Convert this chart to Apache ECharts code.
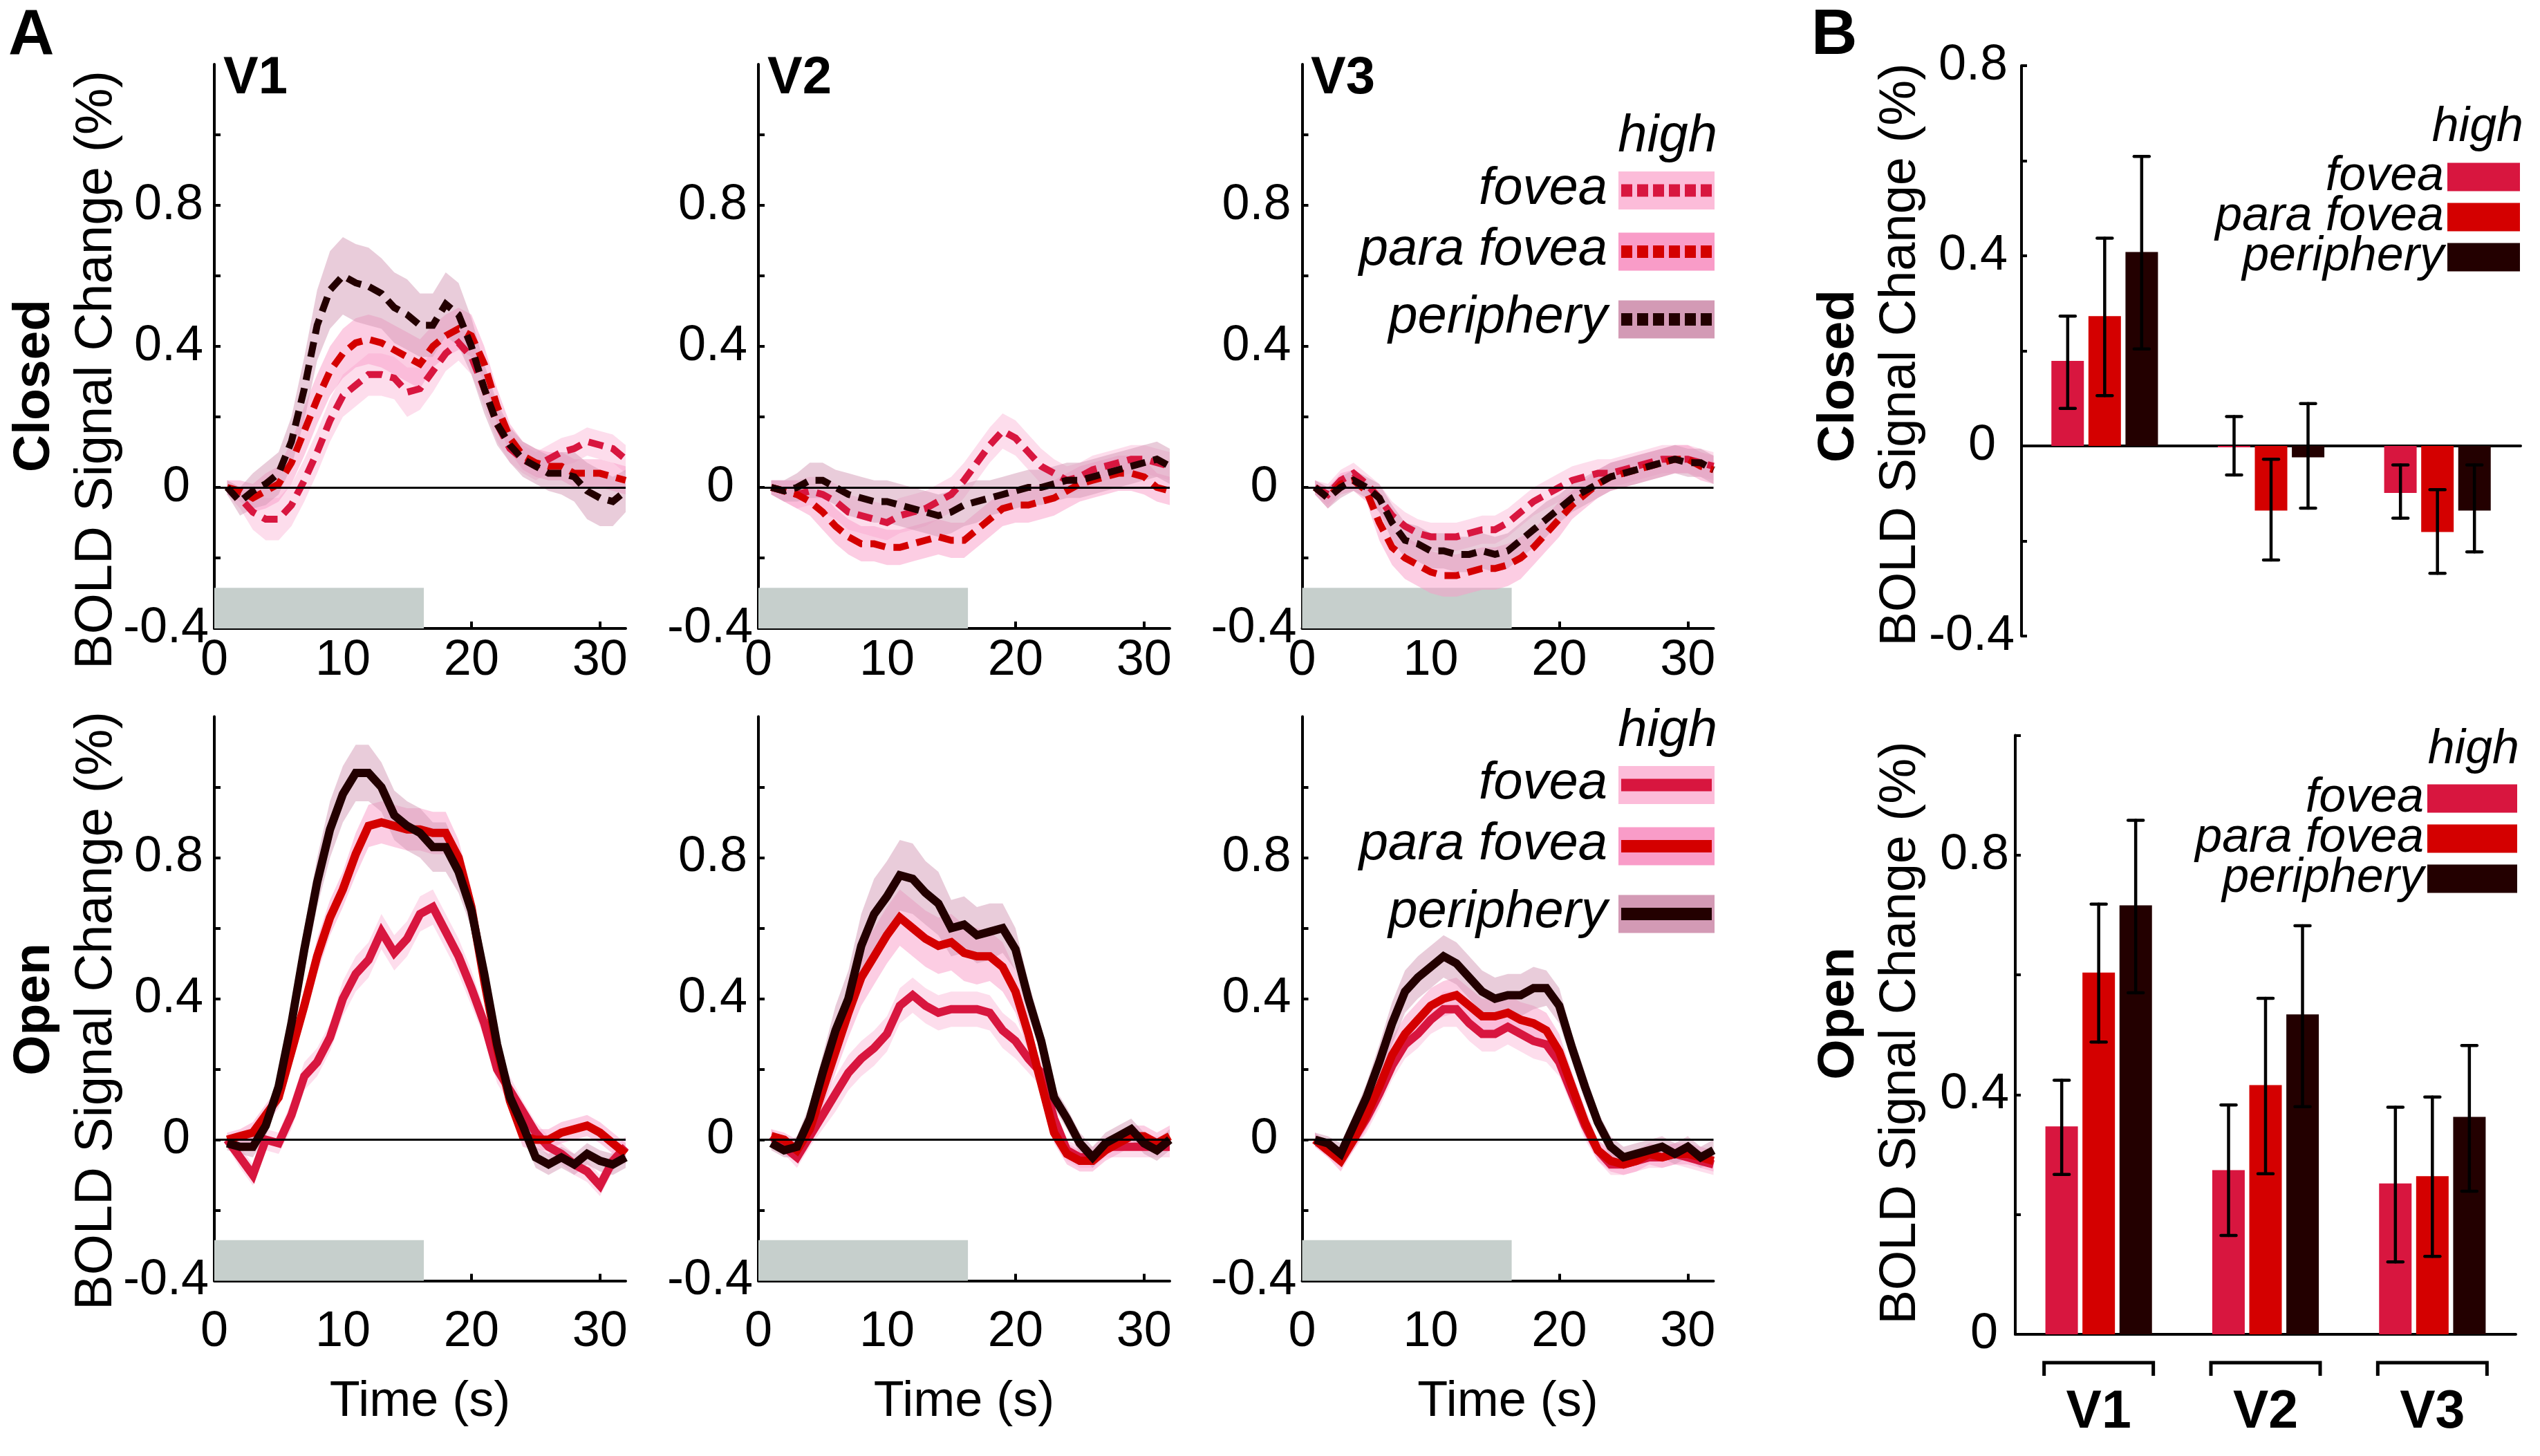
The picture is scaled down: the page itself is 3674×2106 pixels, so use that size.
<!DOCTYPE html>
<html><head><meta charset="utf-8">
<script src="https://cdn.jsdelivr.net/npm/echarts@6/dist/echarts.min.js"></script>
<style>html,body{margin:0;padding:0;background:#fff}#c{width:3674px;height:2106px}</style>
</head><body><div id="c"></div>
<script>
// ---------------- DATA ----------------
const TIME = [1,2,3,4,5,6,7,8,9,10,11,12,13,14,15,16,17,18,19,20,21,22,23,24,25,26,27,28,29,30,31,32];
const X_TICK_LABELS = [0, 10, 20, 30];
const Y_TICK_LABELS = [-0.4, 0, 0.4, 0.8];
const STIM_END = 16.3;          // stimulus bar (grey) end, s
const STIM_TOP = -0.285;        // stimulus bar top, % signal
const CONDITIONS = ['fovea', 'para fovea', 'periphery'];
const AREAS = ['V1', 'V2', 'V3'];

// Closed (eyes closed) time courses, % BOLD
const C_V1_FOV  = [0.00,-0.03,-0.07,-0.09,-0.09,-0.05,0.02,0.10,0.19,0.26,0.29,0.32,0.32,0.31,0.27,0.28,0.33,0.38,0.41,0.37,0.28,0.18,0.11,0.08,0.06,0.08,0.10,0.11,0.13,0.12,0.11,0.08];
const C_V1_PARA = [0.00,-0.01,-0.03,-0.01,0.01,0.07,0.16,0.25,0.33,0.38,0.41,0.42,0.41,0.39,0.37,0.35,0.40,0.43,0.45,0.43,0.35,0.23,0.14,0.09,0.07,0.06,0.06,0.04,0.04,0.04,0.03,0.02];
const C_V1_PER  = [0.00,-0.04,-0.01,0.01,0.04,0.13,0.28,0.46,0.56,0.60,0.58,0.57,0.55,0.51,0.49,0.46,0.46,0.52,0.49,0.40,0.28,0.18,0.12,0.08,0.06,0.04,0.04,0.03,-0.01,-0.03,-0.04,-0.01];
const C_V2_FOV  = [0.00,-0.01,-0.02,-0.01,-0.02,-0.04,-0.07,-0.08,-0.09,-0.10,-0.08,-0.07,-0.06,-0.04,-0.02,0.02,0.07,0.12,0.16,0.14,0.10,0.06,0.04,0.02,0.03,0.05,0.06,0.07,0.08,0.08,0.07,0.06];
const C_V2_PARA = [0.00,-0.01,-0.02,-0.04,-0.07,-0.11,-0.14,-0.16,-0.16,-0.17,-0.17,-0.16,-0.15,-0.14,-0.15,-0.15,-0.12,-0.09,-0.06,-0.05,-0.05,-0.04,-0.03,-0.01,0.01,0.02,0.03,0.04,0.04,0.03,0.00,-0.01];
const C_V2_PER  = [0.00,-0.01,0.00,0.02,0.02,0.00,-0.02,-0.03,-0.04,-0.04,-0.05,-0.06,-0.07,-0.08,-0.07,-0.05,-0.04,-0.03,-0.02,-0.01,0.00,0.00,0.01,0.02,0.02,0.03,0.04,0.05,0.06,0.07,0.08,0.06];
const C_V3_FOV  = [0.00,-0.02,0.02,0.04,0.01,-0.03,-0.08,-0.11,-0.13,-0.14,-0.14,-0.14,-0.13,-0.12,-0.12,-0.10,-0.07,-0.04,-0.02,0.00,0.02,0.03,0.04,0.04,0.05,0.06,0.07,0.08,0.08,0.08,0.07,0.06];
const C_V3_PARA = [0.00,-0.03,0.01,0.02,-0.01,-0.10,-0.17,-0.20,-0.22,-0.24,-0.25,-0.25,-0.24,-0.23,-0.23,-0.22,-0.20,-0.17,-0.13,-0.09,-0.05,-0.02,0.01,0.03,0.04,0.05,0.06,0.07,0.08,0.08,0.06,0.05];
const C_V3_PER  = [0.00,-0.03,0.00,0.02,0.00,-0.03,-0.10,-0.15,-0.16,-0.18,-0.18,-0.19,-0.19,-0.18,-0.19,-0.18,-0.15,-0.12,-0.09,-0.06,-0.03,-0.01,0.01,0.03,0.04,0.05,0.06,0.07,0.08,0.07,0.07,0.05];
// Closed: standard errors (half band width)
const C_V1_FOV_SEM  = [0.02,0.03,0.05,0.06,0.06,0.06,0.06,0.06,0.06,0.06,0.06,0.06,0.06,0.06,0.07,0.06,0.06,0.05,0.05,0.05,0.05,0.05,0.04,0.04,0.04,0.04,0.04,0.04,0.04,0.04,0.04,0.04];
const C_V1_PARA_SEM = [0.02,0.03,0.04,0.05,0.05,0.06,0.07,0.07,0.07,0.07,0.07,0.07,0.07,0.07,0.07,0.07,0.06,0.06,0.06,0.06,0.05,0.05,0.04,0.04,0.04,0.04,0.04,0.04,0.04,0.04,0.04,0.04];
const C_V1_PER_SEM  = [0.02,0.04,0.05,0.06,0.06,0.07,0.09,0.10,0.11,0.11,0.11,0.11,0.10,0.10,0.10,0.09,0.09,0.09,0.09,0.08,0.07,0.06,0.05,0.05,0.05,0.05,0.06,0.07,0.08,0.08,0.07,0.06];
const C_V2_FOV_SEM  = [0.02,0.03,0.04,0.04,0.05,0.05,0.05,0.05,0.05,0.05,0.05,0.05,0.05,0.05,0.05,0.05,0.05,0.05,0.05,0.05,0.05,0.05,0.04,0.04,0.04,0.04,0.04,0.04,0.04,0.04,0.04,0.04];
const C_V2_PARA_SEM = [0.02,0.03,0.04,0.04,0.05,0.05,0.05,0.05,0.05,0.05,0.05,0.05,0.05,0.05,0.05,0.05,0.05,0.05,0.05,0.05,0.05,0.05,0.05,0.05,0.05,0.05,0.05,0.05,0.05,0.05,0.04,0.04];
const C_V2_PER_SEM  = [0.02,0.03,0.04,0.05,0.05,0.05,0.06,0.06,0.06,0.06,0.06,0.06,0.06,0.06,0.06,0.06,0.06,0.05,0.05,0.05,0.05,0.05,0.05,0.05,0.05,0.05,0.05,0.05,0.05,0.05,0.05,0.05];
const C_V3_FOV_SEM  = [0.02,0.03,0.03,0.03,0.03,0.04,0.04,0.04,0.04,0.04,0.04,0.04,0.04,0.04,0.04,0.04,0.04,0.04,0.04,0.04,0.04,0.04,0.04,0.04,0.04,0.04,0.04,0.04,0.04,0.04,0.04,0.04];
const C_V3_PARA_SEM = [0.02,0.03,0.03,0.03,0.03,0.05,0.05,0.06,0.06,0.06,0.06,0.06,0.06,0.06,0.06,0.06,0.06,0.05,0.05,0.05,0.04,0.04,0.04,0.04,0.04,0.04,0.04,0.04,0.04,0.04,0.04,0.04];
const C_V3_PER_SEM  = [0.02,0.03,0.03,0.03,0.03,0.04,0.05,0.05,0.05,0.05,0.05,0.05,0.05,0.05,0.05,0.05,0.05,0.05,0.05,0.04,0.04,0.04,0.04,0.04,0.04,0.04,0.04,0.04,0.04,0.04,0.04,0.04];

// Open (eyes open) time courses, % BOLD
const O_V1_FOV  = [0.00,-0.05,-0.10,0.00,-0.01,0.07,0.18,0.22,0.29,0.40,0.47,0.51,0.59,0.53,0.57,0.64,0.66,0.59,0.52,0.43,0.33,0.20,0.14,0.08,0.02,-0.02,-0.04,-0.07,-0.09,-0.13,-0.06,-0.02];
const O_V1_PARA = [0.00,0.01,0.02,0.07,0.12,0.25,0.38,0.52,0.63,0.71,0.81,0.89,0.90,0.89,0.88,0.88,0.87,0.87,0.80,0.66,0.45,0.26,0.11,0.01,0.00,0.00,0.02,0.03,0.04,0.02,-0.01,-0.04];
const O_V1_PER  = [-0.01,-0.02,-0.02,0.04,0.15,0.33,0.54,0.73,0.88,0.98,1.04,1.04,1.00,0.92,0.89,0.87,0.83,0.83,0.76,0.65,0.47,0.27,0.12,0.04,-0.05,-0.07,-0.05,-0.07,-0.04,-0.06,-0.07,-0.05];
const O_V2_FOV  = [0.01,-0.02,-0.05,0.01,0.07,0.13,0.19,0.23,0.26,0.30,0.38,0.41,0.38,0.36,0.37,0.37,0.37,0.36,0.31,0.28,0.23,0.19,0.06,-0.03,-0.05,-0.05,-0.02,-0.02,-0.02,-0.02,-0.02,-0.02];
const O_V2_PARA = [0.01,0.00,-0.03,0.03,0.14,0.25,0.36,0.46,0.52,0.58,0.63,0.60,0.57,0.55,0.56,0.53,0.52,0.52,0.49,0.42,0.30,0.16,0.02,-0.04,-0.06,-0.06,-0.03,-0.01,0.01,0.01,-0.01,0.01];
const O_V2_PER  = [-0.01,-0.03,-0.02,0.06,0.19,0.31,0.40,0.55,0.64,0.69,0.75,0.74,0.70,0.67,0.60,0.61,0.58,0.59,0.60,0.54,0.40,0.28,0.12,0.06,-0.01,-0.05,-0.01,0.01,0.03,-0.01,-0.03,0.00];
const O_V3_FOV  = [0.00,-0.03,-0.05,0.00,0.06,0.13,0.21,0.27,0.30,0.34,0.37,0.37,0.33,0.30,0.30,0.32,0.30,0.28,0.27,0.22,0.13,0.04,-0.03,-0.07,-0.07,-0.06,-0.05,-0.05,-0.04,-0.05,-0.06,-0.07];
const O_V3_PARA = [0.00,-0.03,-0.06,0.00,0.07,0.15,0.24,0.30,0.34,0.38,0.40,0.41,0.38,0.35,0.35,0.36,0.34,0.33,0.31,0.25,0.15,0.05,-0.03,-0.06,-0.07,-0.06,-0.04,-0.05,-0.04,-0.04,-0.05,-0.06];
const O_V3_PER  = [0.00,-0.01,-0.04,0.04,0.12,0.22,0.33,0.42,0.46,0.49,0.52,0.50,0.46,0.42,0.40,0.41,0.41,0.43,0.43,0.38,0.26,0.15,0.05,-0.02,-0.05,-0.04,-0.03,-0.02,-0.04,-0.02,-0.05,-0.03];
// Open: standard errors
const O_V1_FOV_SEM  = [0.02,0.03,0.03,0.03,0.03,0.04,0.04,0.04,0.04,0.05,0.05,0.05,0.05,0.05,0.05,0.05,0.05,0.05,0.05,0.05,0.04,0.04,0.04,0.03,0.03,0.03,0.03,0.03,0.03,0.03,0.03,0.03];
const O_V1_PARA_SEM = [0.02,0.02,0.03,0.03,0.03,0.04,0.04,0.05,0.05,0.05,0.06,0.06,0.06,0.06,0.06,0.06,0.06,0.06,0.05,0.05,0.04,0.04,0.03,0.03,0.03,0.03,0.03,0.03,0.03,0.03,0.03,0.03];
const O_V1_PER_SEM  = [0.02,0.02,0.03,0.03,0.04,0.05,0.06,0.07,0.08,0.08,0.08,0.08,0.07,0.07,0.07,0.07,0.07,0.07,0.06,0.05,0.04,0.04,0.03,0.03,0.03,0.03,0.03,0.03,0.03,0.03,0.03,0.03];
const O_V2_FOV_SEM  = [0.02,0.02,0.03,0.03,0.04,0.05,0.05,0.05,0.05,0.05,0.05,0.05,0.05,0.05,0.05,0.05,0.05,0.05,0.05,0.05,0.04,0.04,0.03,0.03,0.03,0.03,0.03,0.03,0.03,0.03,0.03,0.03];
const O_V2_PARA_SEM = [0.02,0.02,0.03,0.03,0.05,0.06,0.07,0.08,0.08,0.08,0.08,0.08,0.08,0.08,0.08,0.08,0.08,0.07,0.07,0.06,0.05,0.04,0.03,0.03,0.03,0.03,0.03,0.03,0.03,0.03,0.03,0.03];
const O_V2_PER_SEM  = [0.02,0.02,0.03,0.04,0.05,0.07,0.08,0.09,0.10,0.10,0.10,0.10,0.09,0.09,0.08,0.08,0.08,0.08,0.07,0.06,0.05,0.04,0.03,0.03,0.03,0.03,0.03,0.03,0.03,0.03,0.03,0.03];
const O_V3_FOV_SEM  = [0.02,0.02,0.03,0.03,0.04,0.04,0.04,0.04,0.04,0.04,0.05,0.05,0.05,0.05,0.05,0.05,0.05,0.05,0.05,0.04,0.04,0.04,0.03,0.03,0.03,0.03,0.03,0.03,0.03,0.03,0.03,0.03];
const O_V3_PARA_SEM = [0.02,0.02,0.03,0.03,0.04,0.05,0.05,0.05,0.05,0.05,0.05,0.05,0.05,0.05,0.05,0.05,0.05,0.05,0.05,0.05,0.04,0.04,0.03,0.03,0.03,0.03,0.03,0.03,0.03,0.03,0.03,0.03];
const O_V3_PER_SEM  = [0.02,0.02,0.03,0.03,0.04,0.05,0.06,0.06,0.06,0.06,0.06,0.06,0.06,0.06,0.06,0.06,0.06,0.06,0.05,0.05,0.04,0.04,0.03,0.03,0.03,0.03,0.03,0.03,0.03,0.03,0.03,0.03];

// Bar chart B: mean % BOLD per area (V1, V2, V3) and error bar limits
const CLOSED_FOV      = [0.179, -0.003, -0.099];
const CLOSED_FOV_LO   = [0.079, -0.061, -0.152];
const CLOSED_FOV_HI   = [0.273,  0.062, -0.040];
const CLOSED_PARA     = [0.273, -0.136, -0.181];
const CLOSED_PARA_LO  = [0.106, -0.240, -0.268];
const CLOSED_PARA_HI  = [0.437, -0.028, -0.092];
const CLOSED_PER      = [0.408, -0.024, -0.136];
const CLOSED_PER_LO   = [0.204, -0.131, -0.223];
const CLOSED_PER_HI   = [0.609,  0.089, -0.040];
const OPEN_FOV        = [0.347, 0.274, 0.252];
const OPEN_FOV_LO     = [0.267, 0.165, 0.121];
const OPEN_FOV_HI     = [0.424, 0.383, 0.379];
const OPEN_PARA       = [0.604, 0.416, 0.264];
const OPEN_PARA_LO    = [0.488, 0.268, 0.130];
const OPEN_PARA_HI    = [0.718, 0.561, 0.396];
const OPEN_PER        = [0.716, 0.534, 0.363];
const OPEN_PER_LO     = [0.570, 0.380, 0.239];
const OPEN_PER_HI     = [0.858, 0.682, 0.482];

// ---------------- STYLE ----------------
const FONT = "'Liberation Sans', Arial, Helvetica, sans-serif";
const LINE_COLORS = ['#d8163f', '#d40000', '#230000'];
const BAND_COLORS = ['#fcbcd9', '#f99cc8', '#d39ab5'];
const BAR_COLORS  = ['#d8163f', '#d40000', '#230000'];

const PANELS = [
  {closed:true,  means:[C_V1_FOV,C_V1_PARA,C_V1_PER], sems:[C_V1_FOV_SEM,C_V1_PARA_SEM,C_V1_PER_SEM]},
  {closed:true,  means:[C_V2_FOV,C_V2_PARA,C_V2_PER], sems:[C_V2_FOV_SEM,C_V2_PARA_SEM,C_V2_PER_SEM]},
  {closed:true,  means:[C_V3_FOV,C_V3_PARA,C_V3_PER], sems:[C_V3_FOV_SEM,C_V3_PARA_SEM,C_V3_PER_SEM]},
  {closed:false, means:[O_V1_FOV,O_V1_PARA,O_V1_PER], sems:[O_V1_FOV_SEM,O_V1_PARA_SEM,O_V1_PER_SEM]},
  {closed:false, means:[O_V2_FOV,O_V2_PARA,O_V2_PER], sems:[O_V2_FOV_SEM,O_V2_PARA_SEM,O_V2_PER_SEM]},
  {closed:false, means:[O_V3_FOV,O_V3_PARA,O_V3_PER], sems:[O_V3_FOV_SEM,O_V3_PARA_SEM,O_V3_PER_SEM]}
];
const COL_LEFT = [310, 1097, 1883.5];
const ROW_TOP = [93, 1036.5];
const PANEL_W = 595, PANEL_H = 816;

const grids = [], xAxes = [], yAxes = [], series = [];
const txt = (size, extra) => Object.assign({fontSize:size, fontFamily:FONT, color:'#000'}, extra||{});

function yRich(pPad, zPad) {
  return {
    p: txt(72, {padding:[0,pPad,0,0]}),
    z: txt(72, {padding:[0,zPad,0,0]}),
    n: txt(72, {padding:[0,0,0,0]})
  };
}
function yFmt(v) {
  if (Math.abs(v) < 1e-9) return '{z|0}';
  return (v < 0 ? '{n|' : '{p|') + v.toFixed(1) + '}';
}
// band (mean ± sem) drawn as one polygon through the axis scales
function bandRender(color) {
  return function (params, api) {
    if (params.dataIndexInside !== 0) return null;
    const up = [], lo = [];
    for (let i = 0; i < params.dataInsideLength; i++) {
      up.push(api.coord([api.value(0, i), api.value(2, i)]));
      lo.push(api.coord([api.value(0, i), api.value(1, i)]));
    }
    return {type:'polygon', shape:{points: up.concat(lo.reverse())},
      style:{fill:color, opacity:0.5}};
  };
}

PANELS.forEach((p, g) => {
  const col = g % 3, row = g < 3 ? 0 : 1;
  grids.push({left: COL_LEFT[col], top: ROW_TOP[row], width: PANEL_W, height: PANEL_H, containLabel:false});
  xAxes.push({
    gridIndex:g, type:'value', min:0, max:32,
    axisLine:{onZero:false, lineStyle:{color:'#000', width:4}},
    axisTick:{inside:true, length:10, lineStyle:{color:'#000', width:4}, customValues:[10,20,30]},
    axisLabel:{customValues:X_TICK_LABELS, margin: row===0 ? 11 : 39, ...txt(72)},
    splitLine:{show:false},
    name: row===1 ? 'Time (s)' : '', nameLocation:'middle', nameGap:140,
    nameTextStyle: txt(72)
  });
  yAxes.push({
    gridIndex:g, type:'value', min:-0.4, max:1.2,
    axisLine:{show:true, onZero:false, lineStyle:{color:'#000', width:4}},
    axisTick:{show:true, inside:true, length:9, lineStyle:{color:'#000', width:4}, customValues:[-0.2,0,0.2,0.4,0.6,0.8,1.0]},
    axisLabel:{customValues:Y_TICK_LABELS, margin:8, formatter:yFmt, rich:yRich(8,27), ...txt(72)},
    splitLine:{show:false}
  });
  // zero line + stimulus bar
  series.push({
    type:'line', xAxisIndex:g, yAxisIndex:g, data:[], silent:true, z:2,
    markLine:{silent:true, symbol:['none','none'], label:{show:false}, animation:false,
      lineStyle:{color:'#000', width:3, type:'solid'}, data:[{yAxis:0}]},
    markArea:{silent:true, animation:false, itemStyle:{color:'#c6cfcc', opacity:1},
      data:[[{coord:[0,-0.4]},{coord:[STIM_END, STIM_TOP]}]]}
  });
  // bands
  [0,1,2].forEach(k => {
    const m = p.means[k], s = p.sems[k];
    series.push({type:'custom', xAxisIndex:g, yAxisIndex:g, z:1, silent:true,
      renderItem: bandRender(BAND_COLORS[k]), encode:{x:0, y:[1,2]},
      data: TIME.map((t,i) => [t, m[i] - s[i], m[i] + s[i]])});
  });
  // mean lines
  [0,1,2].forEach(k => {
    series.push({type:'line', name: AREAS[col] + (p.closed?' closed ':' open ') + CONDITIONS[k],
      xAxisIndex:g, yAxisIndex:g, z:3, symbol:'none', silent:true,
      lineStyle:{color:LINE_COLORS[k], width: p.closed ? 10 : 12, type: p.closed ? [22,12] : 'solid', cap:'butt', join:'miter'},
      data: TIME.map((t,i) => [t, p.means[k][i]])});
  });
});

// ---- Bar charts (grid 6 closed, grid 7 open) ----
grids.push({left:2924, top:95, width:722, height:825});
grids.push({left:2915, top:1063.5, width:724, height:866.5});
xAxes.push({gridIndex:6, type:'category', data:AREAS,
  axisLine:{onZero:true, lineStyle:{color:'#000', width:4}}, axisTick:{show:false}, axisLabel:{show:false}});
xAxes.push({gridIndex:7, type:'category', data:AREAS,
  axisLine:{lineStyle:{color:'#000', width:4}}, axisTick:{show:false},
  axisLabel:{margin:75, ...txt(77, {fontWeight:'bold'})}});
yAxes.push({gridIndex:6, type:'value', min:-0.4, max:0.8,
  axisLine:{show:true, onZero:false, lineStyle:{color:'#000', width:4}},
  axisTick:{show:true, inside:true, length:8, lineStyle:{color:'#000', width:4}, customValues:[-0.4,-0.2,0,0.2,0.4,0.6,0.8]},
  axisLabel:{customValues:Y_TICK_LABELS, margin:10, formatter:yFmt, rich:yRich(10,27), ...txt(72)},
  splitLine:{show:false}});
yAxes.push({gridIndex:7, type:'value', min:0, max:1.0,
  axisLine:{show:true, onZero:false, lineStyle:{color:'#000', width:4}},
  axisTick:{show:true, inside:true, length:8, lineStyle:{color:'#000', width:4}, customValues:[0.2,0.4,0.6,0.8,1.0]},
  axisLabel:{customValues:[0,0.4,0.8], margin:9, formatter:yFmt, rich:yRich(0,16), ...txt(72)},
  splitLine:{show:false}});

const BAR_PITCH = 53.5;
function errRender(offset) {
  return function (params, api) {
    const lo = api.coord([api.value(0), api.value(1)]);
    const hi = api.coord([api.value(0), api.value(2)]);
    const x = lo[0] + offset, cap = 11;
    const st = {stroke:'#000', lineWidth:4.5, lineCap:'round'};
    return {type:'group', children:[
      {type:'line', shape:{x1:x, y1:lo[1], x2:x, y2:hi[1]}, style:st},
      {type:'line', shape:{x1:x-cap, y1:lo[1], x2:x+cap, y2:lo[1]}, style:st},
      {type:'line', shape:{x1:x-cap, y1:hi[1], x2:x+cap, y2:hi[1]}, style:st}
    ]};
  };
}
const BAR_SETS = [
  {g:6, vals:[CLOSED_FOV,CLOSED_PARA,CLOSED_PER], lo:[CLOSED_FOV_LO,CLOSED_PARA_LO,CLOSED_PER_LO], hi:[CLOSED_FOV_HI,CLOSED_PARA_HI,CLOSED_PER_HI]},
  {g:7, vals:[OPEN_FOV,OPEN_PARA,OPEN_PER], lo:[OPEN_FOV_LO,OPEN_PARA_LO,OPEN_PER_LO], hi:[OPEN_FOV_HI,OPEN_PARA_HI,OPEN_PER_HI]}
];
BAR_SETS.forEach(b => {
  [0,1,2].forEach(k => {
    series.push({type:'bar', name:CONDITIONS[k], xAxisIndex:b.g, yAxisIndex:b.g, barWidth:47, barGap:'14%',
      itemStyle:{color:BAR_COLORS[k]}, silent:true, data:b.vals[k]});
  });
  [0,1,2].forEach(k => {
    series.push({type:'custom', name:'err'+b.g+'_'+k, xAxisIndex:b.g, yAxisIndex:b.g, z:5, silent:true,
      renderItem: errRender((k-1) * BAR_PITCH), encode:{x:0, y:[1,2]},
      data: AREAS.map((a,i) => [i, b.lo[k][i], b.hi[k][i]])});
  });
});
// brackets under open bar groups
series.push({type:'custom', name:'brackets', xAxisIndex:7, yAxisIndex:7, clip:false, silent:true,
  encode:{x:0, y:1},
  data: AREAS.map((a,i) => [i, 0]),
  renderItem: function (params, api) {
    const p = api.coord([api.value(0), api.value(1)]);
    const half = 79, y1 = p[1] + 41, y2 = p[1] + 60;
    return {type:'polyline', shape:{points:[[p[0]-half,y2],[p[0]-half,y1],[p[0]+half,y1],[p[0]+half,y2]]},
      style:{stroke:'#000', lineWidth:5, fill:null}};
  }});

// ---------------- GRAPHIC TEXT & LINE LEGENDS ----------------
const graphic = [];
function vtext(text, x, y, size, bold) {
  graphic.push({type:'text', x:x, y:y, rotation:Math.PI/2, silent:true, z:100,
    style:{text:text, x:0, y:0, align:'center', verticalAlign:'middle', fill:'#000',
      font:(bold?'bold ':'') + size + 'px ' + FONT}});
}
vtext('Closed', 50, 558, 75, true);
vtext('BOLD Signal Change (%)', 140, 535, 76, false);
vtext('Open', 50, 1460, 75, true);
vtext('BOLD Signal Change (%)', 140, 1462, 76, false);
vtext('Closed', 2660, 544, 75, true);
vtext('BOLD Signal Change (%)', 2750, 513, 74, false);
vtext('Open', 2660, 1466, 75, true);
vtext('BOLD Signal Change (%)', 2750, 1494, 74, false);

function htext(text, x, y, size, align) {
  graphic.push({type:'text', x:x, y:y, silent:true, z:100,
    style:{text:text, x:0, y:0, align:align, verticalAlign:'middle', fill:'#000',
      font:'italic ' + size + 'px ' + FONT}});
}
// line legends (closed row dashed, open row solid)
[0, 860].forEach((dy, r) => {
  htext('high', 2484, 198 + dy, 76, 'right');
  const centers = [275.5, 364, 462];
  centers.forEach((cy, k) => {
    htext(CONDITIONS[k], 2325, cy - 2 + dy, 76, 'right');
    graphic.push({type:'rect', silent:true, z:100, shape:{x:2341, y:cy - 27.5 + dy, width:139, height:55},
      style:{fill:BAND_COLORS[k]}});
    graphic.push({type:'line', silent:true, z:101, shape:{x1:2345, y1:cy + dy, x2:2476, y2:cy + dy},
      style:{stroke:LINE_COLORS[k], lineWidth:18, lineDash: r === 0 ? [16,7] : null}});
  });
});
// "high" over bar legends
htext('high', 3650, 185, 70, 'right');
htext('high', 3644, 1085, 70, 'right');

const titleStyle = (size) => ({fontSize:size, fontWeight:'bold', fontFamily:FONT, color:'#000'});
const option = {
  backgroundColor:'#fff',
  animation:false,
  title:[
    {text:'A', left:12, top:7, padding:0, textStyle:titleStyle(92)},
    {text:'B', left:2620, top:7, padding:0, textStyle:titleStyle(92)},
    {text:'V1', left:323, top:76, padding:0, textStyle:titleStyle(76)},
    {text:'V2', left:1110, top:76, padding:0, textStyle:titleStyle(76)},
    {text:'V3', left:1896, top:76, padding:0, textStyle:titleStyle(76)}
  ],
  legend:[
    {data:CONDITIONS, orient:'vertical', right:29, top:221, align:'right', icon:'rect', itemWidth:105, itemHeight:41,
      itemGap:-12, padding:0, selectedMode:false,
      textStyle:{fontSize:70, fontStyle:'italic', fontFamily:FONT, color:'#000'}},
    {data:CONDITIONS, orient:'vertical', right:33, top:1120, align:'right', icon:'rect', itemWidth:130, itemHeight:41,
      itemGap:-12, padding:0, selectedMode:false,
      textStyle:{fontSize:70, fontStyle:'italic', fontFamily:FONT, color:'#000'}}
  ],
  grid:grids, xAxis:xAxes, yAxis:yAxes, series:series, graphic:graphic
};
const chart = echarts.init(document.getElementById('c'), null, {renderer:'canvas', width:3674, height:2106});
chart.setOption(option);
</script>
</body></html>
